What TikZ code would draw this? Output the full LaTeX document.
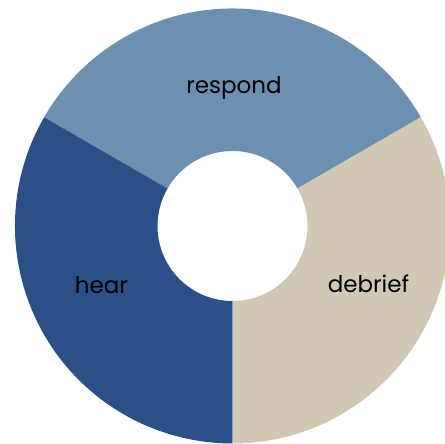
\documentclass[tikz,border=0pt]{standalone}
\usepackage{fontspec}
\setmainfont{Poppins}
\definecolor{respondc}{RGB}{110,144,176}
\definecolor{hearc}{RGB}{44,79,136}
\definecolor{debriefc}{RGB}{208,200,178}
\tikzset{
  lbl/.style={font=\fontsize{23}{27}\selectfont, text=black, inner sep=0pt, anchor=base},
}
\newcommand{\ringseg}[3]{%
  \fill[#3] (232.5pt,218pt) ++(#1:217.5pt) arc[start angle=#1,end angle=#2,radius=217.5pt]
    -- ($(232.5pt,218pt)+(#2:75pt)$) arc[start angle=#2,end angle=#1,radius=75pt] -- cycle;}
\usetikzlibrary{calc}
\begin{document}
\begin{tikzpicture}
\useasboundingbox (0,0) rectangle (445pt,444pt);
\clip (0,0) rectangle (445pt,444pt);
\ringseg{30}{150}{respondc}
\ringseg{150}{270}{hearc}
\ringseg{-90}{30}{debriefc}
\node[lbl] (respond) at (234pt,350pt) {respond};
\node[lbl] (hear) at (101.5pt,150pt) {hear};
\node[lbl] (debrief) at (368.5pt,151pt) {debrief};
\end{tikzpicture}
\end{document}
